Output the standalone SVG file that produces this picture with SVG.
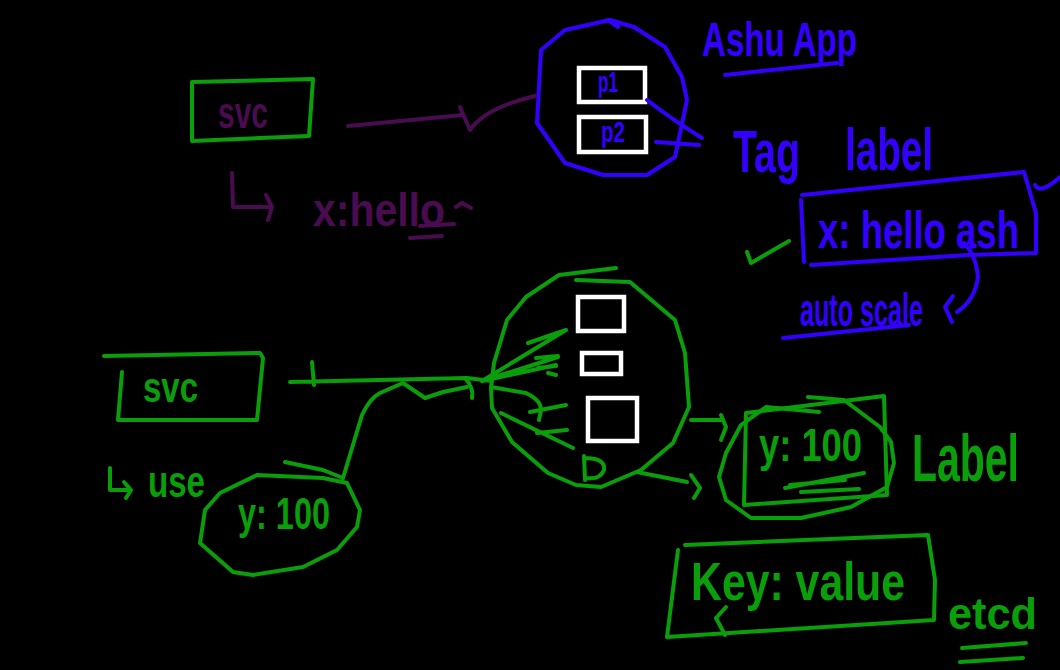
<svg xmlns="http://www.w3.org/2000/svg" width="1060" height="670" viewBox="0 0 1060 670">
<style>
.g{fill:none;stroke:#0a9e0a;stroke-width:4;stroke-linecap:round;stroke-linejoin:round}
.b{fill:none;stroke:#3300ff;stroke-width:4;stroke-linecap:round;stroke-linejoin:round}
.p{fill:none;stroke:#4a0c50;stroke-width:4;stroke-linecap:round;stroke-linejoin:round}
.w{fill:none;stroke:#ffffff;stroke-width:4.5;stroke-linejoin:miter}
text{font-family:"Liberation Sans",Arial,sans-serif;font-weight:bold}
.tg{fill:#0a9e0a}.tb{fill:#3300ff}.tp{fill:#4a0c50}
</style>
<rect x="0" y="0" width="1060" height="670" fill="#000"/>

<!-- top svc -->
<g id="svc-top">
<path class="g" d="M192,82 L313,79 L309,136 L192,141 Z"/>
<text class="tp" x="218" y="128" font-size="44" textLength="50" lengthAdjust="spacingAndGlyphs">svc</text>
</g>

<g id="x-hello">
<path class="p" d="M232,173 L233,207 L270,207 M266,195 L272,207 L268,220"/>
<text class="tp" x="313" y="226" font-size="46" textLength="132" lengthAdjust="spacingAndGlyphs">x:hello</text>
<path class="p" d="M420,226 L454,224 M410,238 L442,236 M456,207 L462,203 L471,208"/>
</g>

<!-- blue app circle -->
<g id="ashu-app-pod">
<path class="b" d="M610,20 L565,30 L541,50 L537,123 L565,163 L603,175 L647,175 L675,157 L687,100 L682,77 L665,47 L634,27 L610,20 M608,20 L618,27"/>
<rect class="w" x="579" y="68" width="66" height="34"/>
<rect class="w" x="579" y="117" width="67" height="35"/>
<text class="tb" x="598" y="92" font-size="30" textLength="20" lengthAdjust="spacingAndGlyphs">p1</text>
<text class="tb" x="601" y="142" font-size="30" textLength="24" lengthAdjust="spacingAndGlyphs">p2</text>
</g>

<g id="ashu-app-title">
<text class="tb" x="702" y="56" font-size="48" textLength="155" lengthAdjust="spacingAndGlyphs">Ashu App</text>
<path class="b" d="M725,75 L837,63"/>
</g>

<g id="tag-label">
<text class="tb" x="733" y="172" font-size="60" textLength="67" lengthAdjust="spacingAndGlyphs">Tag</text>
<text class="tb" x="845" y="170" font-size="60" textLength="88" lengthAdjust="spacingAndGlyphs">label</text>
</g>

<g id="label-box">
<path class="b" d="M802,195 L1024,172 L1036,213 L1036,253 L968,255 L811,265 M801,200 L804,262"/>
<text class="tb" transform="translate(818,248) scale(1,1.4)" x="0" y="0" font-size="37" textLength="201" lengthAdjust="spacingAndGlyphs">x: hello ash</text>
<path class="b" d="M1035,185 Q1040,195 1060,177"/>
</g>

<g id="check">
<path class="g" d="M747,252 L751,263 L789,241"/>
</g>

<g id="auto-scale">
<text class="tb" x="800" y="326" font-size="46" textLength="123" lengthAdjust="spacingAndGlyphs">auto scale</text>
<path class="b" d="M783,338 L909,325"/>
<path class="b" d="M953,296 L945,307 L952,322"/>
</g>

<!-- lower svc -->
<g id="svc-bottom">
<path class="g" d="M104,356 L260,353 L263,358 L257,420 L118,420 L122,372"/>
<text class="tg" x="143" y="402" font-size="42" textLength="55" lengthAdjust="spacingAndGlyphs">svc</text>
</g>

<g id="use">
<path class="g" d="M110,468 L110,490 L128,490 M124,482 L131,490 L126,498"/>
<text class="tg" x="148" y="497" font-size="44" textLength="57" lengthAdjust="spacingAndGlyphs">use</text>
</g>

<g id="selector-left">
<path class="g" d="M257,475 L323,478 L347,483 L360,510 L357,527 L337,550 L303,567 L253,575 L233,572 L200,543 L205,510 L220,493 L257,475 M285,462 L323,470 L343,478"/>
<text class="tg" x="238" y="529" font-size="44" textLength="92" lengthAdjust="spacingAndGlyphs">y: 100</text>
</g>

<!-- green pod circle -->
<g id="green-pod">
<path class="g" d="M491,388 L494,363 L507,320 L526,297 L559,275 L616,268 M576,280 L630,282 L675,320 L685,353 L689,407 L673,443 L641,470 L601,487 L576,485 L548,473 L512,442 L492,408 L491,388"/>
<rect class="w" x="578" y="297" width="46" height="34"/>
<rect class="w" x="582" y="353" width="39" height="21"/>
<rect class="w" x="588" y="398" width="49" height="43"/>
<path class="g" d="M584,456 L585,480 M584,458 Q606,458 604,470 Q600,480 586,478"/>
</g>

<g id="label-right">
<path class="g" d="M746,413 L884,396 L887,495 L744,505 Z"/>
<path class="g" d="M808,397 L844,400 L880,427 L891,442 L894,463 L887,487 L851,507 L801,518 L751,518 L726,500 L719,477 L726,453 L741,425 L766,407 L819,412"/>
<text class="tg" x="759" y="461" font-size="46" textLength="103" lengthAdjust="spacingAndGlyphs">y: 100</text>
<path class="g" d="M785,488 L864,473 M801,492 L859,489 M790,485 L845,480"/>
<text class="tg" transform="translate(912,481) scale(1,1.65)" x="0" y="0" font-size="40" textLength="107" lengthAdjust="spacingAndGlyphs">Label</text>
</g>

<g id="etcd-box">
<path class="g" d="M685,545 L928,535 L935,580 L934,620 L667,637 L678,550"/>
<text class="tg" x="691" y="600" font-size="54" textLength="214" lengthAdjust="spacingAndGlyphs">Key: value</text>
<path class="g" d="M726,607 L716,618 L725,635"/>
</g>

<g id="etcd">
<text class="tg" x="948" y="629" font-size="44" textLength="89" lengthAdjust="spacingAndGlyphs">etcd</text>
<path class="g" d="M962,648 L1026,643 M960,662 L1023,658"/>
</g>

<!-- connectors -->
<g id="connectors">
<path class="p" d="M348,126 L463,115 M460,107 L470,130 Q485,108 535,96"/>
<path class="b" d="M647,100 Q670,118 702,138 M656,142 L699,145"/>
<path class="b" d="M964,243 Q976,255 978,277 Q975,300 957,312"/>
<path class="g" d="M290,382 L467,378 L492,381 M312,362 L314,385"/>
<path class="g" d="M343,478 L362,415 Q370,398 380,393 L403,383 L425,398 L443,392 L467,387 M465,378 Q474,388 472,398"/>
<path class="g" d="M482,381 L566,330 M528,343 L566,330 M482,381 L558,357 M536,358 L558,356 M482,381 L556,365 M538,368 L556,366 M548,373 L556,375"/>
<path class="g" d="M491,387 L526,393 Q541,400 541,410 L539,420 M530,412 L566,405"/>
<path class="g" d="M501,413 L573,448 M537,433 L567,430"/>
<path class="g" d="M691,420 L723,420 M721,415 L726,427 L721,440"/>
<path class="g" d="M637,472 L687,482 M691,475 L700,488 L694,498"/>
</g>
</svg>
